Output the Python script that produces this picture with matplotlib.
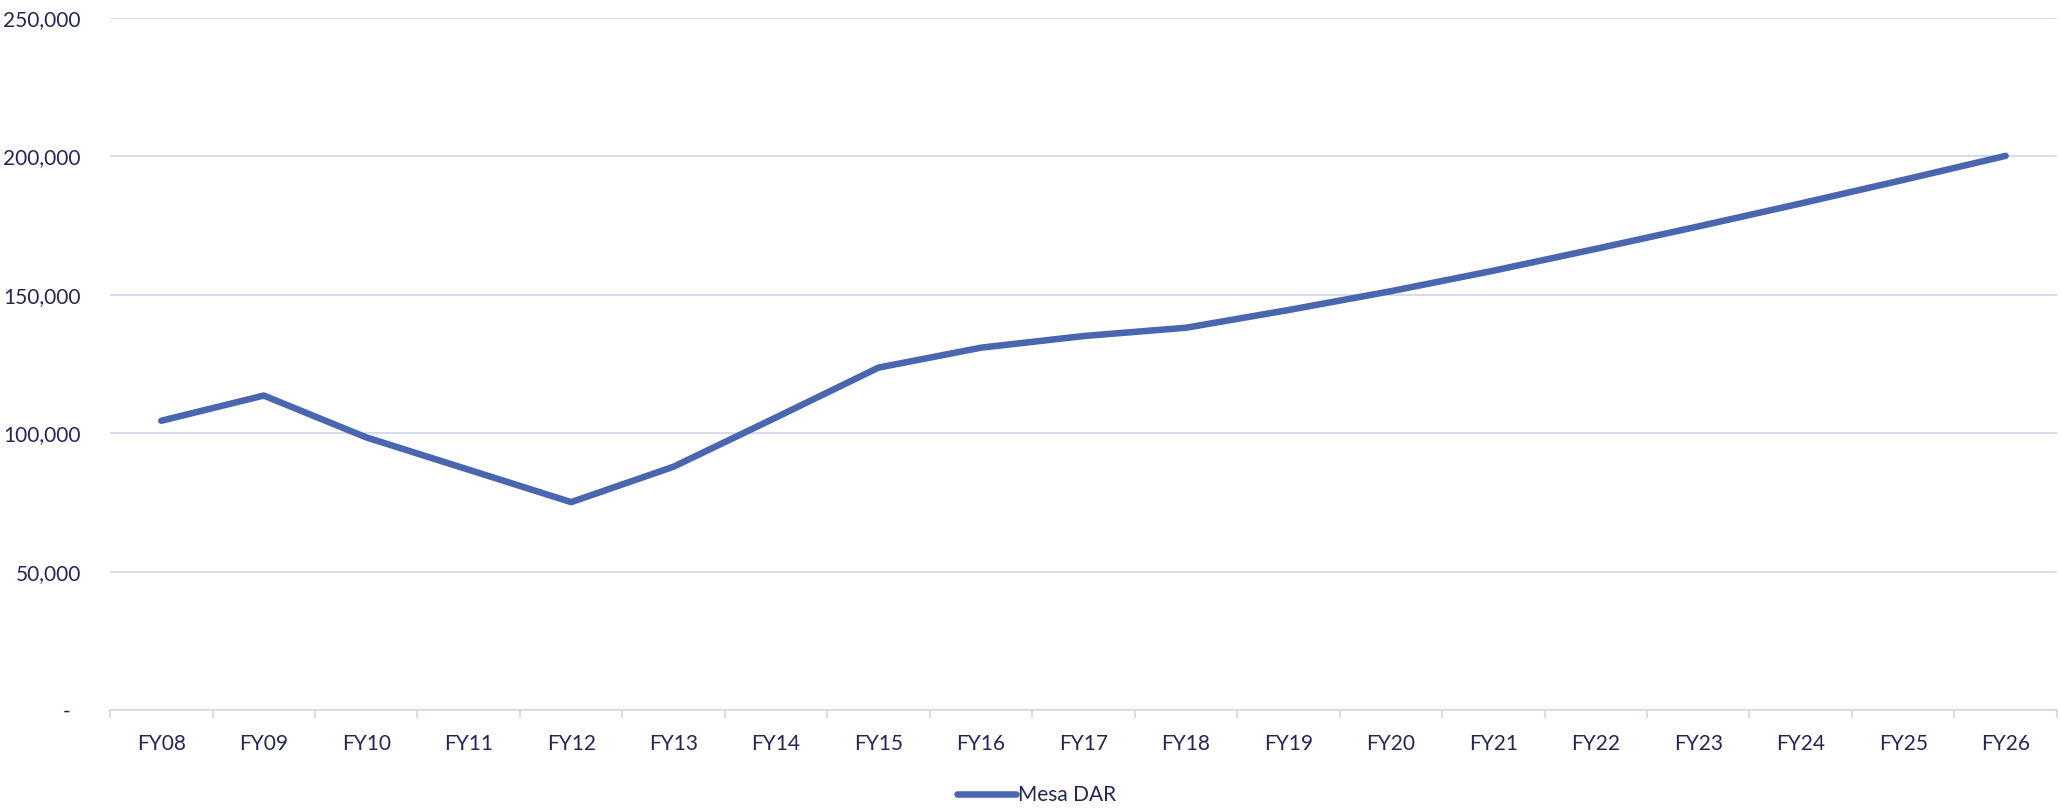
import matplotlib
matplotlib.use("Agg")
import matplotlib.pyplot as plt
from matplotlib.ticker import FixedLocator, FuncFormatter, MultipleLocator

# Fiscal years and Mesa DAR values
years = ["FY08", "FY09", "FY10", "FY11", "FY12", "FY13", "FY14", "FY15", "FY16",
         "FY17", "FY18", "FY19", "FY20", "FY21", "FY22", "FY23", "FY24", "FY25", "FY26"]
mesa_dar = [104500, 113600, 98500, 86800, 75100, 87900, 105700, 123700, 130900,
            135100, 138100, 144500, 151300, 158700, 166600, 174700, 183000, 191500, 200200]
series_name = "Mesa DAR"

LINE_COLOR = "#4a66ae"
GRID_COLOR = "#d6d8ec"
TEXT_COLOR = "#232752"

plt.rcParams["font.family"] = ["Lato", "DejaVu Sans"]

fig = plt.figure(figsize=(20.61, 8.08), dpi=100)
ax = fig.add_axes([0.0534, 0.1213, 0.9446, 0.8564])

x = list(range(len(years)))
ax.plot(x, mesa_dar, color=LINE_COLOR, lw=4.7, solid_capstyle="round",
        solid_joinstyle="round", label=series_name, zorder=3)

ax.set_xlim(-0.5, len(years) - 0.5)
ax.set_ylim(0, 250000)

# y axis: gridlines every 50,000, accounting-style labels
ax.yaxis.set_major_locator(MultipleLocator(50000))
ax.yaxis.set_major_formatter(FuncFormatter(
    lambda v, p: "-  " if v == 0 else f"{int(v):,}"))
ax.grid(axis="y", color=GRID_COLOR, lw=1.3, zorder=0)
ax.tick_params(axis="y", length=0, pad=21, labelsize=15, labelcolor=TEXT_COLOR)

# x axis: tick marks at category boundaries, labels at centres
ax.xaxis.set_major_locator(FixedLocator([i - 0.5 for i in range(len(years) + 1)]))
ax.xaxis.set_major_formatter(FuncFormatter(lambda v, p: ""))
ax.xaxis.set_minor_locator(FixedLocator(x))
ax.set_xticks(x, years, minor=True)
ax.tick_params(axis="x", which="major", length=6, width=1.3, color=GRID_COLOR, direction="out")
ax.tick_params(axis="x", which="minor", length=0, pad=17, labelsize=15, labelcolor=TEXT_COLOR)

for side in ["top", "right", "left"]:
    ax.spines[side].set_visible(False)
ax.spines["bottom"].set_color(GRID_COLOR)
ax.spines["bottom"].set_linewidth(1.3)

leg = fig.legend(loc="lower center", bbox_to_anchor=(0.503, -0.02), frameon=False,
                 fontsize=15, handlelength=2.8, handletextpad=0.1)
for t in leg.get_texts():
    t.set_color(TEXT_COLOR)

fig.savefig("out.png", dpi=100)
